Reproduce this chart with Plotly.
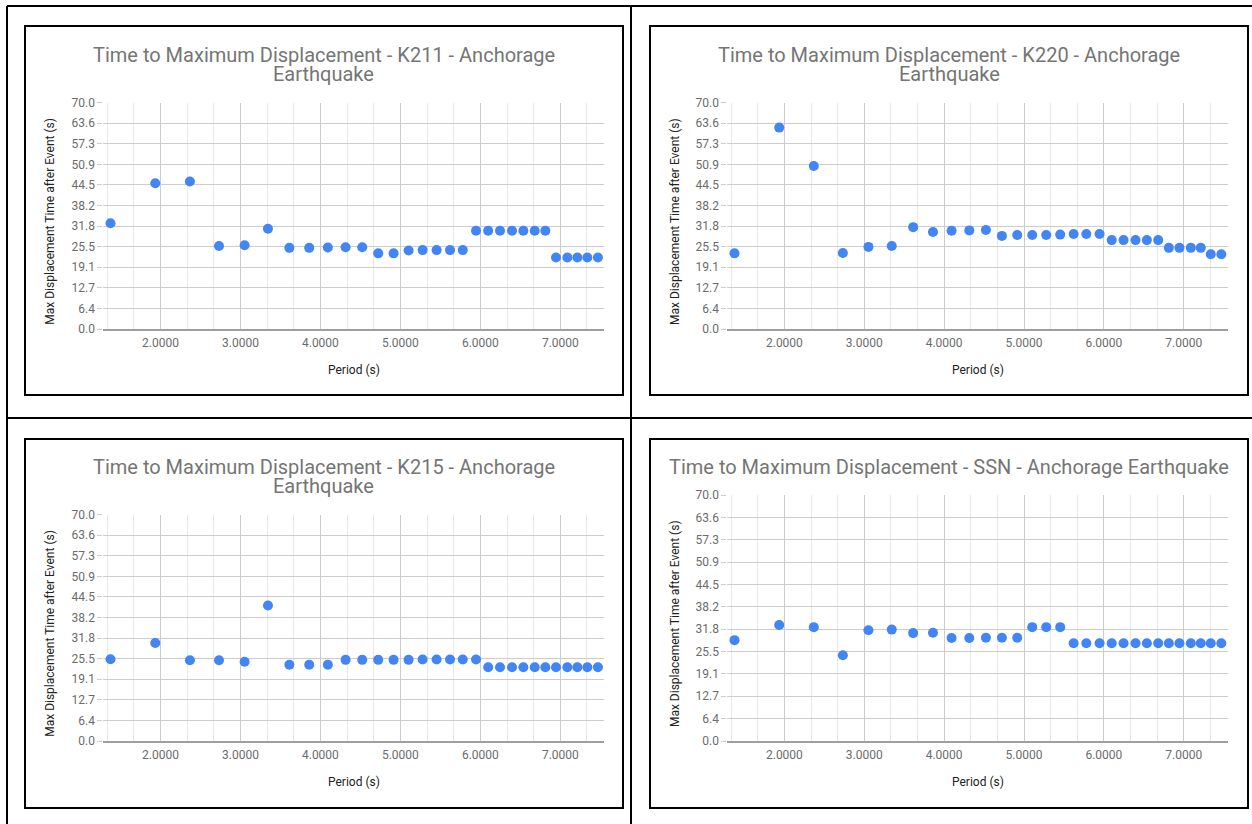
import plotly.graph_objects as go

# ---------------- data ----------------
periods = [1.375, 1.935, 2.368, 2.732, 3.052, 3.344, 3.612, 3.860, 4.093, 4.315,
           4.523, 4.723, 4.915, 5.103, 5.278, 5.453, 5.621, 5.780, 5.946, 6.098,
           6.246, 6.396, 6.538, 6.680, 6.813, 6.946, 7.088, 7.213, 7.338, 7.470]

k211 = [32.7, 45.1, 45.6, 25.7, 25.9, 31.0, 25.1, 25.1, 25.2, 25.3,
        25.3, 23.4, 23.4, 24.3, 24.4, 24.4, 24.4, 24.4, 30.4, 30.4,
        30.4, 30.4, 30.4, 30.4, 30.4, 22.1, 22.1, 22.1, 22.1, 22.1]

k220 = [23.4, 62.3, 50.4, 23.5, 25.4, 25.7, 31.5, 30.0, 30.4, 30.5,
        30.6, 28.8, 29.1, 29.1, 29.1, 29.2, 29.4, 29.4, 29.4, 27.5,
        27.5, 27.5, 27.5, 27.5, 25.1, 25.1, 25.1, 25.1, 23.1, 23.1]

k215 = [25.3, 30.3, 25.0, 25.0, 24.5, 41.9, 23.6, 23.6, 23.6, 25.1,
        25.1, 25.1, 25.1, 25.1, 25.2, 25.2, 25.2, 25.2, 25.2, 22.8,
        22.8, 22.8, 22.8, 22.8, 22.8, 22.8, 22.8, 22.8, 22.8, 22.8]

ssn = [28.7, 33.0, 32.4, 24.4, 31.5, 31.7, 30.7, 30.8, 29.3, 29.3,
       29.4, 29.4, 29.4, 32.4, 32.4, 32.4, 27.8, 27.8, 27.8, 27.8,
       27.8, 27.8, 27.8, 27.8, 27.8, 27.8, 27.8, 27.8, 27.8, 27.8]

stations = ["K211", "K220", "K215", "SSN"]
series = [k211, k220, k215, ssn]
titles = [
    ["Time to Maximum Displacement - K211 - Anchorage", "Earthquake"],
    ["Time to Maximum Displacement - K220 - Anchorage", "Earthquake"],
    ["Time to Maximum Displacement - K215 - Anchorage", "Earthquake"],
    ["Time to Maximum Displacement - SSN - Anchorage Earthquake"],
]
y_max = 70.0
y_ticks = [i * y_max / 11 for i in range(12)]
y_ticktext = [f"{v:.1f}" for v in y_ticks]
x_title = "Period (s)"
y_title = "Max Displacement Time after Event (s)"

# ---------------- layout geometry (pixels) ----------------
W, H = 1252, 824
FONT = "Roboto, Arial, sans-serif"
BLUE = "#4285F4"

def px(x):
    return x / W

def py(y):
    return 1 - y / H

# plot areas: (left, right, top, bottom)
plot_boxes = [
    (103.3, 604.3, 102.7, 329.0),
    (727.3, 1227.7, 102.7, 329.0),
    (103.3, 604.3, 514.7, 741.0),
    (727.3, 1227.7, 495.0, 741.0),
]
# chart containers (bordered)
chart_boxes = [
    (25, 623, 26, 395),
    (650, 1248, 26, 395),
    (25, 623, 439, 808),
    (650, 1248, 439, 808),
]
title_y = [[54.5, 74.0], [54.5, 74.0], [466.5, 486.0], [466.5]]
xtitle_y = [370.0, 370.0, 781.5, 781.5]
ytitle_y = [221.7, 221.7, 633.8, 623.8]
ytitle_x = [50.0, 674.3, 50.0, 674.3]

fig = go.Figure()
for i, (name, ys) in enumerate(zip(stations, series)):
    sx = "" if i == 0 else str(i + 1)
    fig.add_trace(go.Scatter(
        x=periods, y=ys, mode="markers", name=name,
        marker=dict(color=BLUE, size=10, line=dict(width=0)),
        xaxis="x" + sx, yaxis="y" + sx, showlegend=False,
    ))
    l, r, t, b = plot_boxes[i]
    fig.layout["xaxis" + sx] = dict(
        domain=[px(l), px(r)], anchor="y" + sx, range=[1.285, 7.55],
        tickmode="linear", tick0=0, dtick=1, tickformat=".4f",
        showgrid=True, gridcolor="#cccccc", gridwidth=1,
        minor=dict(dtick=1 / 3, tick0=0, showgrid=True, gridcolor="#e8e8e8", gridwidth=1),
        showline=True, linecolor="#9e9e9e", linewidth=2,
        zeroline=False, ticks="", ticklabelstandoff=2,
        tickfont=dict(family=FONT, size=12, color="#6b6b6b"),
        automargin=False, fixedrange=True,
    )
    fig.layout["yaxis" + sx] = dict(
        domain=[py(b), py(t)], anchor="x" + sx, range=[0, y_max],
        tickmode="array", tickvals=y_ticks, ticktext=y_ticktext,
        showgrid=True, gridcolor="#cccccc", gridwidth=1,
        zeroline=False, showline=False,
        ticks="outside", ticklen=5, tickcolor="#cccccc",
        tickfont=dict(family=FONT, size=12, color="#6b6b6b"),
        automargin=False, fixedrange=True,
    )
    # titles
    cl, cr, ct, cb = chart_boxes[i]
    for line, yy in zip(titles[i], title_y[i]):
        fig.add_annotation(
            x=px((cl + cr) / 2), y=py(yy), xref="paper", yref="paper",
            text=line, showarrow=False, xanchor="center", yanchor="middle",
            font=dict(family=FONT, size=20, color="#757575"),
        )
    fig.add_annotation(
        x=px((l + r) / 2), y=py(xtitle_y[i]), xref="paper", yref="paper",
        text=x_title, showarrow=False, xanchor="center", yanchor="middle",
        font=dict(family=FONT, size=12, color="#222222"),
    )
    fig.add_annotation(
        x=px(ytitle_x[i]), y=py(ytitle_y[i]), xref="paper", yref="paper",
        text=y_title, showarrow=False, textangle=-90,
        xanchor="center", yanchor="middle",
        font=dict(family=FONT, size=12, color="#222222"),
    )
    # chart border
    fig.add_shape(type="rect", xref="paper", yref="paper",
                  x0=px(cl), x1=px(cr), y0=py(cb), y1=py(ct),
                  line=dict(color="black", width=2), layer="above")

# outer table lines
table_lines = [
    (7, 6, 1252, 6),      # top
    (7, 6, 7, 824),       # left
    (631, 6, 631, 824),   # middle vertical
    (7, 418, 1252, 418),  # middle horizontal
]
for x0, y0, x1, y1 in table_lines:
    fig.add_shape(type="line", xref="paper", yref="paper",
                  x0=px(x0), y0=py(y0), x1=px(x1), y1=py(y1),
                  line=dict(color="black", width=2), layer="above")

fig.update_layout(
    template="none",
    width=W, height=H, margin=dict(l=0, r=0, t=0, b=0, pad=0, autoexpand=False),
    paper_bgcolor="white", plot_bgcolor="white",
    font=dict(family=FONT), showlegend=False,
)
fig.write_html("out.html")
